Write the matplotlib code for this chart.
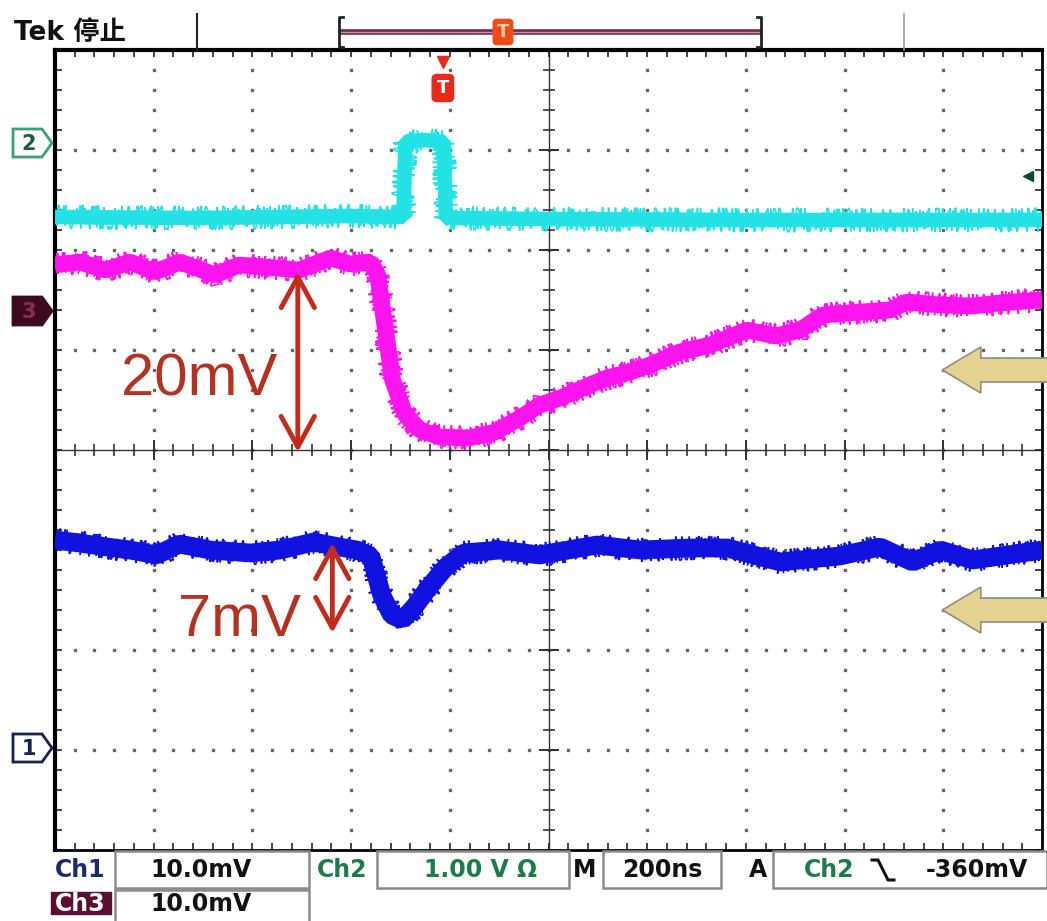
import numpy as np
import matplotlib.pyplot as plt
from matplotlib.patches import Rectangle, Polygon, FancyArrow, FancyArrowPatch

# waveform data, x in divisions (200ns/div), y in divisions (0 = centre line)
ch2_t = [0.0, 1.5, 3.0, 3.53, 3.55, 3.75, 3.94, 3.96, 5.0, 7.0, 10.0]
ch2_v = [2.33, 2.32, 2.34, 2.33, 3.08, 3.10, 3.08, 2.32, 2.31, 2.30, 2.30]

ch3_t = [0.0, 0.25, 0.51, 0.76, 1.01, 1.27, 1.62, 1.87, 2.23, 2.48, 2.79, 2.99, 3.20,
         3.27, 3.42, 3.55, 3.70, 3.90, 4.20, 4.46, 4.71, 4.91, 5.12, 5.42, 5.59,
         5.83, 6.03, 6.33, 6.64, 7.01, 7.30, 7.55, 7.78, 8.16, 8.46, 8.63, 8.97,
         9.30, 9.57, 10.0]
ch3_v = [1.85, 1.88, 1.80, 1.88, 1.78, 1.88, 1.75, 1.85, 1.82, 1.80, 1.92, 1.86, 1.88,
         1.75, 0.70, 0.35, 0.20, 0.13, 0.12, 0.18, 0.32, 0.45, 0.52, 0.65, 0.72,
         0.78, 0.85, 0.98, 1.05, 1.20, 1.14, 1.20, 1.35, 1.38, 1.40, 1.48, 1.45,
         1.44, 1.47, 1.50]

ch1_t = [0.0, 0.25, 0.53, 0.76, 1.03, 1.26, 1.57, 1.98, 2.28, 2.62, 2.88, 3.06, 3.20,
         3.31, 3.41, 3.52, 3.64, 3.79, 3.96, 4.14, 4.51, 4.91, 5.49, 5.93, 6.43,
         6.81, 7.35, 7.95, 8.36, 8.69, 8.97, 9.30, 10.0]
ch1_v = [-0.90, -0.93, -0.97, -1.00, -1.05, -0.94, -1.00, -1.03, -1.00, -0.92, -0.97,
         -1.00, -1.06, -1.45, -1.65, -1.70, -1.57, -1.37, -1.17, -1.03, -1.00, -1.05,
         -0.95, -1.00, -0.98, -0.98, -1.12, -1.06, -0.97, -1.12, -1.00, -1.10, -1.00]

# annotations
big_label = "20mV"
big_span = (1.78, -0.02)
small_label = "7mV"
small_span = (-0.93, -1.83)

status_row1 = ["Ch1", "10.0mV", "Ch2", "1.00 V \u03a9", "M", "200ns", "A", "Ch2", "-360mV"]
status_row2 = ["Ch3", "10.0mV"]

W, H = 1047, 921
fig = plt.figure(figsize=(W / 100, H / 100), dpi=100)
fig.patch.set_facecolor("white")

ax = fig.add_axes([55 / W, 71 / H, 987 / W, 800 / H])
ax.set_xlim(0, 10)
ax.set_ylim(-4, 4)
ax.set_xticks(range(11))
ax.set_yticks(range(-4, 5))
ax.set_xticks(np.arange(0, 10.01, 0.2), minor=True)
ax.set_yticks(np.arange(-4, 4.01, 0.2), minor=True)
ax.tick_params(which="both", direction="in", top=True, right=True, length=5, width=1.2,
               labelbottom=False, labelleft=False, color="#222")
for s in ["left", "top"]:
    ax.spines[s].set_linewidth(3)
for s in ["right", "bottom"]:
    ax.spines[s].set_linewidth(2)

# dotted graticule
dots = np.arange(0.2, 8.0, 0.2) - 4
for gx in [1, 2, 3, 4, 6, 7, 8, 9]:
    ax.plot(np.full(dots.size, gx), dots, "s", ms=1.6, color="#666", zorder=1)
xdots = np.arange(0.2, 10.0, 0.2)
for gy in [-3, -2, -1, 1, 2, 3]:
    ax.plot(xdots, np.full(xdots.size, gy), "s", ms=1.6, color="#666", zorder=1)

# centre cross with ticks
ax.axvline(5, color="#333", lw=1, zorder=1)
ax.axhline(0, color="#333", lw=1, zorder=1)
ax.plot(np.full(dots.size, 5), dots, "_", ms=9, mew=1.2, color="#333", zorder=1)
ax.plot(xdots, np.zeros(xdots.size), "|", ms=9, mew=1.2, color="#333", zorder=1)
ax.plot(np.full(7, 5), np.arange(-3, 4), "_", ms=14, mew=1.4, color="#333", zorder=1)
ax.plot(np.arange(1, 10), np.zeros(9), "|", ms=14, mew=1.4, color="#333", zorder=1)

# traces: solid core plus a thin jittered stroke for the noisy edge
traces = [(ch2_t, ch2_v, "#22e2e6", 10.5), (ch3_t, ch3_v, "#ff14f0", 12),
          (ch1_t, ch1_v, "#1212e0", 13.5)]
for t, v, col, lw in traces:
    ax.plot(t, v, color=col, lw=lw, zorder=3, solid_joinstyle="bevel", solid_capstyle="butt")
    fz, = ax.plot(t, v, color=col, lw=1.2, zorder=3, solid_joinstyle="bevel",
                  solid_capstyle="butt")
    fz.set_sketch_params(scale=12, length=2.5, randomness=8)

# trigger position marker
ax.plot([3.93], [3.88], "v", ms=9, color="#e8281a", clip_on=False, zorder=5)
ax.text(3.93, 3.62, "T", ha="center", va="center", fontsize=13, fontweight="bold",
        color="white", zorder=6,
        bbox=dict(boxstyle="round,pad=0.25", fc="#e8281a", ec="#e8281a"))
# trigger level marker
ax.plot([9.86], [2.74], "<", ms=7, color="#0b4a2a", zorder=5)

# red measurement annotations
red = "#c22c1c"
for xa, (ya, yb) in [(2.46, big_span), (2.81, small_span)]:
    ax.add_patch(FancyArrowPatch((xa, ya), (xa, yb), arrowstyle="<->,head_length=1.1,head_width=0.6",
                                 mutation_scale=20, lw=3.5, color=red, zorder=6,
                                 shrinkA=0, shrinkB=0))
ax.text(1.46, 0.70, big_label, ha="center", va="center", fontsize=43,
        family="Liberation Sans", color="#b53220", zorder=6)
ax.text(1.87, -1.70, small_label, ha="center", va="center", fontsize=43,
        family="Liberation Sans", color="#b53220", zorder=6)

# khaki pointer arrows on the right
for ya in [0.80, -1.60]:
    ax.add_patch(FancyArrow(10.06, ya, -1.07, 0, width=0.24, head_width=0.46, head_length=0.39,
                            length_includes_head=True, fc="#e6d290", ec="#8f8f80", lw=1.2,
                            clip_on=False, zorder=7))

# overlay in pixel units for the header, channel markers and status bar
ov = fig.add_axes([0, 0, 1, 1], zorder=5)
ov.set_xlim(0, W)
ov.set_ylim(H, 0)
ov.axis("off")
ov.patch.set_alpha(0)

ov.text(14, 33, "Tek 停止", fontsize=19, fontweight="bold", va="center", ha="left",
        family=["DejaVu Sans", "Noto Sans CJK SC"], color="#111")
ov.plot([197, 197], [14, 50], color="#222", lw=1.5)
ov.plot([904, 904], [14, 50], color="#999", lw=1.2)
ov.plot([341, 759], [32, 32], color="#6b2a48", lw=4)
ov.plot([341, 759], [32, 32], color="#c890a8", lw=1)
ov.plot([343, 339, 339, 343], [17, 17, 47, 47], color="#222", lw=2)
ov.plot([757, 761, 761, 757], [17, 17, 47, 47], color="#222", lw=2)
ov.text(503, 32, "T", ha="center", va="center", fontsize=13, fontweight="bold", color="#ffd0a0",
        bbox=dict(boxstyle="round,pad=0.2", fc="#f04a1a", ec="#f04a1a"))

# channel ground markers
markers = [("2", 143, "white", "#3aa07a", "#1e5a40"),
           ("3", 311, "#3d0b1e", "#3d0b1e", "#8a3050"),
           ("1", 748, "white", "#1a2050", "#1a2050")]
for lab, cy, fc, ec, tc in markers:
    ov.add_patch(Polygon([(13, cy - 14), (42, cy - 14), (52, cy), (42, cy + 14), (13, cy + 14)],
                         closed=True, fc=fc, ec=ec, lw=2))
    ov.text(29, cy + 1, lab, ha="center", va="center", fontsize=15, fontweight="bold", color=tc)

# status bar
box_ec = "#8a8a8a"
for x0, x1, y0, y1 in [(115, 309, 851, 888), (377, 569, 851, 888), (603, 721, 851, 888),
                       (773, 1047, 851, 888), (115, 309, 890, 925)]:
    ov.add_patch(Rectangle((x0, y0), x1 - x0, y1 - y0, fc="white", ec=box_ec, lw=1.8))
ov.add_patch(Rectangle((51, 892), 60, 22, fc="#5a1030", ec="#5a1030"))

navy = "#1c2a6e"
green = "#1f7a4a"
fs = 17
row1 = [(80, navy), (201, "#111"), (342, green), (481, green), (585, "#111"),
        (662, "#111"), (758, "#111"), (829, green), (977, "#111")]
for (xc, col), lab in zip(row1, status_row1):
    ov.text(xc, 870, lab, ha="center", va="center", fontsize=fs, fontweight="bold", color=col)
ov.text(80, 904, status_row2[0], ha="center", va="center", fontsize=fs, fontweight="bold",
        color="white")
ov.text(201, 904, status_row2[1], ha="center", va="center", fontsize=fs, fontweight="bold",
        color="#111")
# falling-edge slope glyph
ov.plot([872, 878, 888, 894], [860, 860, 880, 880], color="#111", lw=2.2)

fig.savefig("out.png", dpi=100, facecolor="white")
